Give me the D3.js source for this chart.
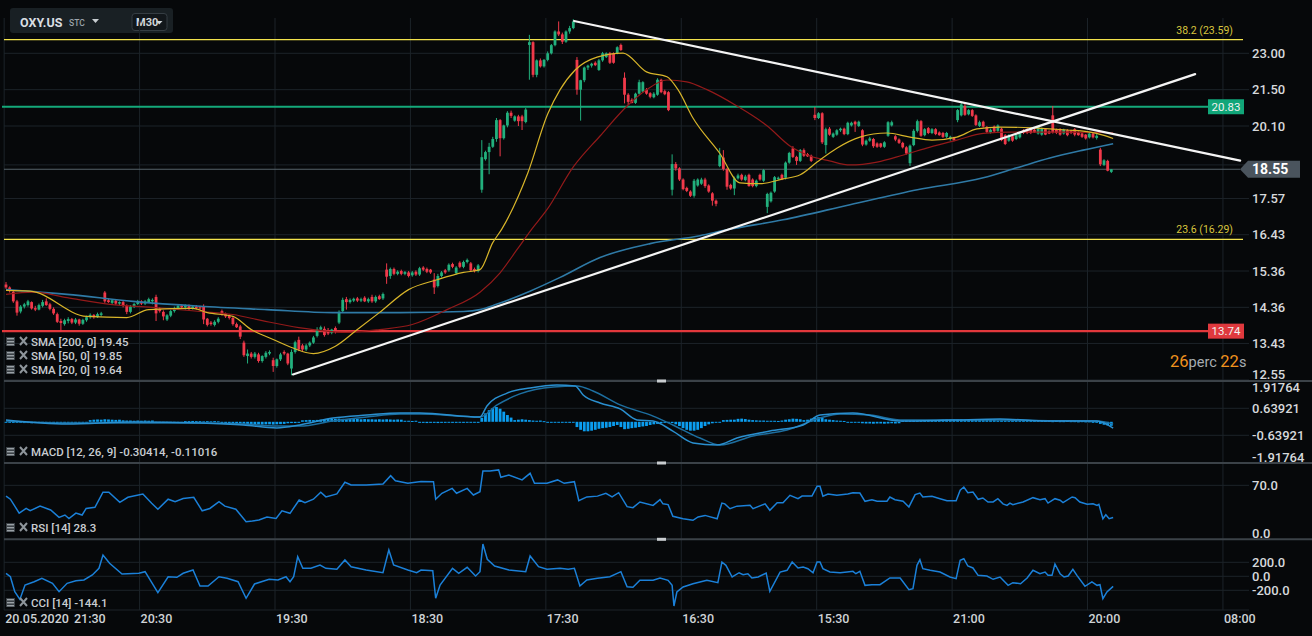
<!DOCTYPE html>
<html>
<head>
<meta charset="utf-8">
<script src="https://cdn.jsdelivr.net/npm/d3@7"></script>
<style>
  html, body { margin: 0; padding: 0; background: #06080a; }
  svg { display: block; font-family: Roboto, "Noto Sans", sans-serif; }
</style>
</head>
<body>
<svg id="chart" width="1312" height="636"></svg>
<script>
// OHLC per M30 candle: [open, high, low, close]
const candles = [
  [14.98,15.05,14.86,14.90],[14.90,14.93,14.76,14.80],[14.78,14.82,14.48,14.52],[14.52,14.56,14.14,14.22],[14.25,14.42,14.20,14.38],
  [14.38,14.48,14.33,14.44],[14.42,14.56,14.38,14.52],[14.50,14.52,14.30,14.33],[14.34,14.40,14.26,14.30],[14.30,14.46,14.28,14.42],
  [14.40,14.56,14.36,14.50],[14.52,14.60,14.40,14.42],[14.44,14.48,14.28,14.32],[14.32,14.36,14.16,14.20],[14.18,14.22,13.95,13.98],
  [14.00,14.06,13.72,13.95],[13.92,14.06,13.88,14.02],[14.00,14.10,13.94,14.05],[14.05,14.08,13.92,13.96],[13.96,14.08,13.92,14.04],
  [14.04,14.06,13.88,13.93],[13.93,14.06,13.90,14.03],[14.02,14.14,13.98,14.10],[14.10,14.20,14.06,14.16],[14.16,14.18,14.06,14.10],
  [14.10,14.22,14.08,14.18],[14.16,14.24,14.12,14.20],[14.76,14.80,14.48,14.52],[14.55,14.60,14.48,14.50],[14.48,14.58,14.45,14.55],
  [14.54,14.58,14.42,14.46],[14.46,14.52,14.42,14.50],[14.50,14.54,14.36,14.40],[14.40,14.44,14.18,14.24],[14.24,14.42,14.20,14.38],
  [14.38,14.48,14.34,14.45],[14.45,14.56,14.42,14.52],[14.52,14.55,14.42,14.46],[14.46,14.56,14.42,14.52],[14.50,14.62,14.48,14.58],
  [14.52,14.60,14.44,14.56],[14.64,14.70,14.00,14.20],[14.32,14.36,14.22,14.26],[14.24,14.28,14.02,14.12],[14.04,14.18,14.00,14.15],
  [14.14,14.30,14.10,14.26],[14.26,14.38,14.22,14.34],[14.34,14.44,14.30,14.40],[14.40,14.44,14.32,14.36],[14.36,14.44,14.30,14.40],
  [14.40,14.44,14.28,14.32],[14.32,14.42,14.30,14.38],[14.38,14.42,14.30,14.34],[14.36,14.40,14.30,14.33],[14.38,14.44,13.92,14.04],
  [14.06,14.08,13.86,13.90],[13.96,14.00,13.88,13.92],[13.90,14.02,13.86,13.98],[13.98,14.10,13.94,14.06],[14.26,14.30,14.14,14.16],
  [14.18,14.22,14.08,14.12],[14.14,14.18,14.04,14.08],[14.08,14.12,13.88,13.92],[13.92,13.96,13.82,13.84],[13.86,13.90,13.54,13.60],
  [13.45,13.50,13.10,13.14],[13.12,13.28,12.94,13.18],[13.18,13.22,13.06,13.10],[13.10,13.22,13.06,13.18],[13.16,13.20,12.96,13.00],
  [13.00,13.14,12.96,13.12],[13.10,13.24,13.06,13.20],[13.18,13.26,13.14,13.22],[13.02,13.08,12.74,12.88],[12.88,13.06,12.84,13.04],
  [13.04,13.20,13.00,13.16],[13.22,13.26,13.14,13.18],[13.18,13.20,12.90,12.94],[12.82,13.28,12.66,13.22],[13.22,13.50,13.18,13.46],
  [13.52,13.60,13.24,13.28],[13.38,13.42,13.24,13.28],[13.28,13.42,13.24,13.38],[13.38,13.48,13.34,13.45],[13.45,13.62,13.42,13.58],
  [13.62,13.84,13.58,13.78],[13.78,13.88,13.74,13.84],[13.80,13.86,13.60,13.64],[13.76,13.82,13.64,13.68],[13.70,13.80,13.66,13.78],
  [13.82,13.86,13.68,13.72],[13.96,14.28,13.92,14.24],[14.26,14.62,14.22,14.56],[14.58,14.64,14.30,14.50],[14.50,14.60,14.46,14.56],
  [14.54,14.62,14.50,14.59],[14.60,14.64,14.50,14.54],[14.54,14.62,14.50,14.58],[14.62,14.66,14.50,14.52],[14.52,14.62,14.48,14.58],
  [14.64,14.70,14.48,14.52],[14.52,14.68,14.48,14.64],[14.66,14.70,14.56,14.58],[14.60,14.76,14.56,14.72],[15.40,15.58,15.00,15.20],
  [15.22,15.46,15.14,15.42],[15.42,15.46,15.24,15.28],[15.28,15.38,15.24,15.34],[15.36,15.40,15.24,15.28],[15.28,15.36,15.24,15.33],
  [15.32,15.36,15.18,15.22],[15.24,15.36,15.20,15.32],[15.34,15.38,15.22,15.26],[15.26,15.48,15.22,15.44],[15.46,15.50,15.36,15.40],
  [15.42,15.46,15.30,15.34],[15.40,15.42,15.28,15.32],[15.12,15.30,14.72,14.90],[14.94,15.28,14.90,15.22],[15.22,15.36,15.18,15.32],
  [15.38,15.42,15.28,15.32],[15.38,15.58,15.34,15.54],[15.56,15.60,15.44,15.48],[15.30,15.50,15.26,15.46],[15.60,15.64,15.44,15.48],
  [15.48,15.66,15.44,15.62],[15.62,15.72,15.58,15.68],[15.58,15.62,15.34,15.38],[15.42,15.46,15.32,15.36],[15.36,15.56,15.32,15.52],
  [17.86,19.58,17.76,18.97],[18.90,19.20,18.85,19.15],[19.15,19.48,18.38,19.34],[19.34,19.70,19.30,19.62],[19.62,20.40,19.52,20.32],
  [20.32,20.36,19.00,19.65],[19.65,20.15,19.60,20.12],[20.12,20.66,20.05,20.60],[20.60,20.68,20.40,20.48],[20.30,20.50,20.26,20.46],
  [20.46,20.52,20.10,20.28],[20.46,20.52,19.95,20.28],[20.25,20.78,20.20,20.72],[23.36,23.80,21.90,23.48],[23.48,23.52,22.00,22.10],
  [22.10,22.74,22.00,22.70],[22.70,22.78,22.40,22.45],[22.45,22.76,22.40,22.72],[22.72,23.08,22.66,23.00],[23.00,23.40,22.95,23.35],
  [23.35,24.00,23.30,23.95],[23.95,24.40,23.75,23.82],[23.82,23.90,23.40,23.50],[23.50,24.00,23.45,23.95],[23.95,24.20,23.85,24.10],
  [24.10,24.50,24.05,24.40],[22.72,22.84,21.30,21.50],[21.50,21.90,20.30,21.88],[21.88,22.44,21.80,22.40],[22.40,22.52,22.30,22.48],
  [22.48,22.60,22.40,22.56],[22.60,22.66,22.46,22.50],[22.30,22.76,22.26,22.70],[22.70,23.06,22.64,23.00],[22.84,23.04,22.80,23.00],
  [23.00,23.06,22.55,22.60],[23.00,23.04,22.56,22.60],[23.00,23.30,22.96,23.26],[23.36,23.42,23.10,23.14],[21.98,22.20,20.96,21.30],
  [21.30,21.36,20.90,21.02],[21.10,21.16,20.96,20.98],[20.98,21.38,20.94,21.34],[21.34,21.90,21.30,21.80],[21.42,21.84,21.38,21.80],
  [21.50,21.56,21.30,21.34],[21.36,21.40,21.16,21.22],[21.20,21.40,21.16,21.34],[21.30,21.96,21.26,21.90],[21.90,21.94,21.36,21.40],
  [21.44,21.50,21.28,21.32],[21.40,21.44,20.66,20.70],[17.86,19.07,17.67,18.73],[18.73,18.80,18.50,18.58],[18.58,18.62,18.15,18.20],
  [18.20,18.24,17.84,17.88],[17.92,17.96,17.78,17.82],[17.80,17.84,17.62,17.66],[17.66,18.22,17.60,18.16],[18.00,18.24,17.96,18.20],
  [18.06,18.26,18.02,18.20],[18.20,18.26,17.92,17.98],[18.00,18.04,17.76,17.80],[17.74,17.78,17.34,17.50],[17.50,17.54,17.32,17.40],
  [18.66,19.30,18.62,19.04],[18.96,19.22,18.50,18.56],[18.56,18.60,17.86,17.96],[18.02,18.06,17.86,17.90],[17.90,18.30,17.68,18.24],
  [18.24,18.40,18.20,18.34],[18.36,18.40,18.16,18.20],[18.18,18.36,18.14,18.30],[18.36,18.40,17.96,17.98],[18.20,18.24,17.94,17.98],
  [17.98,18.20,17.94,18.16],[18.36,18.40,18.16,18.20],[18.16,18.56,18.12,18.52],[17.30,17.76,17.10,17.72],[17.48,17.80,17.44,17.76],
  [17.80,18.32,17.76,18.28],[18.22,18.30,18.18,18.26],[18.36,18.40,18.18,18.20],[18.26,18.82,18.20,18.78],[18.78,19.16,18.74,19.12],
  [19.28,19.36,18.94,18.98],[18.98,19.02,18.70,18.84],[18.84,19.26,18.80,19.22],[19.22,19.28,18.98,19.02],[19.08,19.12,18.98,19.00],
  [19.02,19.06,18.80,18.84],[20.52,20.82,20.32,20.40],[20.40,20.62,20.36,20.58],[20.58,20.62,19.44,19.50],[19.40,20.04,19.10,19.98],
  [20.00,20.06,19.74,19.78],[19.70,19.86,19.66,19.82],[19.78,19.98,19.74,19.94],[19.94,20.04,19.88,20.00],[20.00,20.04,19.76,19.80],
  [19.80,20.26,19.76,20.22],[20.12,20.26,20.08,20.22],[20.26,20.30,19.88,20.16],[20.10,20.30,20.06,20.26],[19.94,19.98,19.36,19.42],
  [19.42,19.60,19.38,19.56],[19.56,19.70,19.52,19.64],[19.62,19.66,19.30,19.36],[19.46,19.50,19.30,19.34],[19.46,19.48,19.30,19.34],
  [19.34,19.54,19.30,19.50],[19.74,20.28,19.70,20.24],[20.12,20.30,20.08,20.24],[19.72,19.76,19.54,19.60],[19.60,19.64,19.44,19.48],
  [19.48,19.52,19.28,19.32],[19.32,19.36,19.06,19.10],[18.76,19.42,18.66,19.38],[19.40,19.98,19.36,19.92],[19.92,20.34,19.86,20.28],
  [20.28,20.32,19.70,19.74],[19.76,20.02,19.72,19.98],[20.02,20.06,19.80,19.84],[19.84,20.02,19.80,19.98],[19.98,20.02,19.76,19.80],
  [19.86,19.90,19.74,19.76],[19.84,19.88,19.66,19.70],[19.70,19.88,19.66,19.84],[19.62,19.74,19.56,19.70],[19.66,19.70,19.54,19.58],
  [20.32,20.74,20.24,20.70],[20.50,21.02,20.46,20.92],[20.86,20.94,20.48,20.52],[20.54,20.74,20.50,20.70],[20.70,20.74,20.44,20.48],
  [20.50,20.54,20.10,20.14],[20.10,20.30,20.06,20.24],[20.26,20.30,20.04,20.08],[20.06,20.10,19.84,19.88],[19.86,20.00,19.82,19.96],
  [20.08,20.12,19.86,19.90],[19.92,20.16,19.88,20.12],[20.00,20.04,19.54,19.58],[19.76,19.80,19.40,19.44],[19.56,19.80,19.52,19.74],
  [19.72,19.76,19.52,19.56],[19.62,19.80,19.58,19.76],[19.68,19.86,19.64,19.82],[19.94,19.98,19.80,19.84],[19.98,20.02,19.80,19.84],
  [19.98,20.02,19.80,19.84],[19.96,20.00,19.84,19.86],[19.82,20.10,19.78,20.06],[19.78,20.04,19.74,20.00],[19.98,20.02,19.76,19.78],
  [19.90,19.94,19.80,19.82],[20.50,20.86,19.82,19.86],[19.96,20.00,19.80,19.84],[19.98,20.02,19.74,19.78],[19.82,20.00,19.78,19.96],
  [19.94,19.98,19.72,19.76],[19.92,19.96,19.80,19.84],[19.98,20.02,19.72,19.78],[19.86,19.90,19.74,19.76],[19.82,19.86,19.66,19.70],
  [19.78,19.80,19.60,19.64],[19.68,19.86,19.64,19.82],[19.82,19.86,19.64,19.68],[19.66,19.80,19.60,19.74],[19.24,19.30,18.66,18.72],
  [18.70,18.90,18.66,18.86],[18.84,18.88,18.48,18.50],[18.46,18.56,18.42,18.55]
];

// moving averages as [candle index, price]
const sma20 = [[0,14.82],[6.6,14.80],[22,14.12],[33,14.09],[39,14.30],[51,14.33],[55,14.22],[62,14.12],[67,13.78],[73,13.53],[78,13.33],[84,13.18],[90,13.36],[96,13.78],[102,14.22],[110,14.84],[118,15.12],[125,15.32],[129.5,15.40],[133,16.19],[135.5,16.61],[142.6,18.43],[148,20.55],[151.4,21.50],[155.5,22.30],[161.5,22.84],[168.6,23.01],[175,22.22],[180.6,22.02],[183.6,21.50],[187.7,20.40],[195,19.11],[200.5,18.09],[206,18.06],[212.3,18.22],[217,18.36],[221.6,18.80],[227,19.29],[233.3,19.69],[240.7,19.84],[247,19.69],[253,19.58],[259.8,19.69],[265.3,19.99],[271.6,20.06],[280.6,20.03],[289.9,19.95],[296.2,19.87],[299.7,19.76],[302.5,19.64]];
const sma50 = [[0,14.71],[7.4,14.77],[16.7,14.62],[28.4,14.44],[40,14.36],[53,14.25],[62,14.17],[70,14.01],[80,13.83],[93,13.71],[102,13.78],[111,13.91],[120.5,14.30],[129.5,14.77],[135,15.31],[139.6,15.98],[143.7,16.61],[147.8,17.21],[155,18.63],[162.3,19.73],[169.7,20.86],[175,21.50],[180.6,21.89],[186,21.81],[191.5,21.50],[199.7,20.86],[208,20.10],[214.2,19.37],[219.7,19.01],[225,18.84],[230.6,18.70],[238,18.80],[245,19.04],[252.5,19.33],[259.8,19.58],[267,19.83],[274.3,19.87],[290,19.87],[297,19.86],[302.5,19.85]];
const sma200 = [[0,14.84],[16.7,14.71],[34.7,14.52],[53,14.39],[71.3,14.30],[89.3,14.22],[107.7,14.22],[125,14.25],[129.5,14.30],[134,14.44],[143,14.79],[151.4,15.18],[162.3,15.75],[176,16.16],[189.6,16.40],[197,16.58],[212.3,16.89],[230.6,17.37],[249,17.86],[267,18.26],[276.2,18.60],[285.2,18.94],[294.3,19.22],[302.5,19.45]];

// MACD lines [index, value] and histogram (one value per candle)
const macdLine = [[0,0.09],[16.7,-0.10],[34.7,-0.01],[53,-0.06],[64.8,-0.15],[74,-0.29],[80.3,-0.15],[89.3,0.18],[98.6,0.32],[107.7,0.42],[113.1,0.42],[129.5,0.23],[131.4,0.75],[136.9,1.36],[143.2,1.60],[150.5,1.74],[155.5,1.70],[157.7,1.27],[162.3,0.89],[167.8,0.61],[172.4,0.09],[176.8,0.04],[182.2,-0.44],[187.7,-1.00],[194.3,-1.10],[199.7,-0.77],[208.7,-0.44],[217.8,-0.15],[222.4,0.32],[231.4,0.42],[244.3,0.04],[258,0.08],[271.6,0.13],[285,0.04],[298,0.04],[302.5,-0.30]];
const signalLine = [[0,0.04],[16.7,-0.06],[34.7,-0.06],[53,-0.06],[64.8,-0.10],[74,-0.20],[80.3,-0.20],[89.3,0.04],[98.6,0.23],[107.7,0.37],[113.1,0.37],[129.5,0.23],[134.2,0.80],[140.4,1.32],[149.5,1.65],[156,1.70],[160.4,1.46],[167.8,0.80],[176.8,0.27],[182.2,-0.15],[189.6,-0.77],[195.1,-1.10],[204.1,-0.67],[213.4,-0.39],[222.4,0.18],[227.9,0.37],[236.1,0.32],[244.3,0.09],[258,0.09],[271.6,0.09],[285,0.05],[298,0.04],[302.5,-0.11]];
const macdHist = [
  -0.04,-0.04,-0.05,-0.04,-0.05,-0.06,-0.06,-0.07,-0.06,-0.06,
  -0.06,-0.05,-0.06,-0.07,-0.06,-0.05,-0.05,-0.04,-0.05,-0.05,
  -0.04,-0.05,-0.04,0.08,0.10,0.11,0.10,0.12,0.11,0.10,
  0.09,0.10,0.07,0.06,0.06,0.05,0.06,0.05,0.06,0.05,
  0.06,-0.04,-0.05,-0.04,-0.03,-0.04,-0.03,-0.04,-0.03,0.03,
  0.03,0.04,0.03,0.03,0.02,0.03,0.02,0.03,0.02,-0.07,
  -0.08,-0.08,-0.09,-0.08,-0.08,-0.09,-0.10,-0.11,-0.12,-0.12,
  -0.13,-0.12,-0.12,-0.13,-0.12,-0.11,-0.10,-0.07,-0.06,-0.06,
  -0.05,0.07,0.08,0.09,0.08,0.09,0.10,0.13,0.14,0.15,
  0.14,0.15,0.14,0.13,0.14,0.13,0.14,0.12,0.13,0.12,
  0.12,0.11,0.12,0.11,0.12,0.11,0.10,0.11,0.10,0.05,
  0.05,0.04,0.05,-0.05,-0.05,-0.06,-0.05,-0.05,-0.06,-0.05,
  -0.05,-0.04,-0.05,-0.05,-0.04,-0.05,0,0,0,-0.05,
  0.19,0.40,0.55,0.65,0.70,0.62,0.48,0.32,0.20,0.08,
  0.10,0.12,0.10,0.08,0.06,0.05,0.06,0.03,0,0,
  0,0,0,-0.03,-0.05,-0.04,-0.25,-0.38,-0.45,-0.45,
  -0.42,-0.38,-0.33,-0.30,-0.28,-0.25,-0.20,-0.15,-0.25,-0.35,
  -0.33,-0.30,-0.28,-0.25,-0.22,-0.20,-0.15,-0.12,-0.10,-0.07,
  -0.05,-0.04,-0.06,-0.12,-0.20,-0.30,-0.38,-0.42,-0.42,-0.38,
  -0.30,-0.20,-0.12,-0.07,-0.04,-0.02,0.08,0.09,0.10,0.10,
  0.14,0.15,0.13,0.10,0.08,0.07,0.06,0.06,0.05,0.05,
  0.05,0.04,0.06,0.10,0.12,0.15,0.14,0.12,0.08,0.10,
  0.15,0.20,0.22,0.18,0.12,0.10,0.08,0.06,0.05,0.04,
  0,0,0,0,-0.07,-0.08,-0.08,-0.09,-0.08,-0.08,
  -0.09,-0.08,-0.07,-0.08,-0.07,0.05,0.06,0.05,0.06,0.05,
  0.06,0.05,0.06,0.05,0.05,0.06,0.10,0.11,0.10,0.12,
  0.11,0.12,0.10,0.11,0.10,0.12,0.11,0.10,0.09,0.10,
  0.09,0.06,0.07,0.06,0.05,0.06,0.07,0.06,0.05,0.06,
  0.05,0.06,0.05,0.06,0.05,0.06,0.03,0.04,0.03,0.03,
  0.04,0.03,0.03,0.02,0.03,0.02,0.02,-0.03,-0.03,-0.10,
  -0.14,-0.17,-0.19
];

const rsi = [[0,56],[1.2,52],[3.6,34],[5.5,40],[6.6,37],[9.3,43],[12.2,38],[14.5,28.5],[16.1,31.5],[17.2,27],[19.1,34],[20.8,31.5],[21.9,40],[24.3,41.5],[26.5,61],[28.1,61],[31.1,48],[33.3,54.5],[37.4,58.8],[39.8,46.7],[41.5,39],[44.3,52],[46.2,48.8],[48.4,53],[51.3,54.5],[53.6,37],[55.7,40],[58.2,48.8],[59.8,43],[62.8,39],[65.6,22.8],[67.3,23.7],[69.1,25],[71.3,29],[73.8,27],[75.4,37],[77.6,33.7],[80.1,51],[81.7,47.5],[84,52],[86,61],[87.4,55],[90.4,58.8],[92.6,74],[94.3,70.4],[98.4,70.4],[103,71.7],[105.1,82.5],[106.4,76],[109.8,72.6],[113.4,75],[116.8,74.7],[117.4,52],[119.1,59.7],[121.9,66],[123.1,59.7],[126,66],[127.7,57.5],[129.5,61.7],[130.3,88.6],[132.2,88.6],[134.6,90],[135.2,80.4],[137.4,83.4],[141,77],[143.2,85.6],[144.4,72.6],[147.8,72.6],[150.7,77],[152.5,72.6],[155.3,74.7],[156.5,50],[158.7,55],[161.6,56],[163.9,59.7],[165.6,55],[167.4,60.4],[169.7,42.3],[171.3,41],[173.2,48.4],[176.8,44],[178.7,51.4],[179.5,46],[180.9,45],[182.2,29.8],[185,26.7],[187.7,24.6],[189.1,29],[191,31],[194.3,26.7],[195.6,47],[196.4,46],[197.8,39.7],[199.7,43],[203.3,44],[204.1,39.7],[207.4,46],[208.7,37.6],[210.7,47.5],[212.3,47.5],[214.2,57],[216.4,52.7],[217.5,56],[220.2,56],[221.6,68.7],[222.4,68.7],[223.2,55.8],[224.6,58.8],[227,57],[230,58.8],[231.4,60.4],[233.3,60],[234.7,49.3],[236.6,51.4],[238,49.3],[240.7,49.3],[241.5,54.9],[242.9,51.4],[245.1,49.3],[246.7,42],[248.4,57.9],[249.7,60],[250.5,54.9],[253,55.8],[255.2,52.7],[257.1,50],[259.6,50],[260.7,63.6],[261.7,67.8],[262.8,60.4],[264.2,61.3],[265.6,51.9],[266.9,53.6],[268.3,48.4],[269.7,48.4],[271,52.7],[272.4,46],[273.5,44],[274.3,47],[275.1,45],[277.9,48.4],[280.6,54],[282.5,51.4],[283.9,52.7],[284.7,47],[286.6,52.7],[288,50.6],[288.8,47.5],[291.3,54.9],[292.1,54],[293.4,48.4],[295.4,45.4],[297,46],[298.1,44],[298.6,45.4],[299.7,26.7],[300.5,31.9],[301.4,26.7],[302.5,28.3]];

const cci = [[0,43],[1.2,-6],[2.4,-220],[3.8,-330],[5.2,-124],[7.7,-77],[9.8,-29],[12.7,-100],[14.5,-220],[16.7,-100],[19.1,-63],[21.3,-53],[23.6,19],[25.4,114],[26.5,304],[28.3,186],[31.7,33],[36.3,43],[38,66],[41.5,-234],[44.3,-6],[46.7,-14],[48.4,43],[51.1,90],[53,-139],[55.2,-139],[58.2,-6],[60.4,-29],[63.4,-77],[65.6,-314],[67.9,-110],[71.9,-43],[74.3,-53],[76.5,-6],[77.6,-77],[78.6,-6],[79.7,280],[81.1,114],[83.3,114],[85.8,161],[87.4,114],[90.4,100],[92.6,233],[94.3,137],[98.4,90],[103,51],[104.6,376],[105.9,161],[109.8,90],[112.2,51],[113.4,90],[116.6,80],[117.4,-314],[118.6,-124],[122,114],[123.7,43],[126,129],[128.3,4],[129.5,66],[130.3,461],[131.5,243],[133.5,147],[137.4,90],[142,66],[143.2,290],[145.5,137],[147.8,100],[151.4,114],[153.6,100],[155.3,114],[156.8,-139],[158.7,-53],[161.6,-29],[165,-6],[168,66],[169.7,-149],[171.3,-157],[173.2,-57],[176.8,-57],[178.7,-24],[180.9,-57],[182,-129],[182.5,-424],[183.3,-224],[185,-153],[187.7,-106],[191.5,-57],[194.5,-91],[195.6,204],[196.7,157],[198.4,-10],[200.3,51],[201.4,23],[202.7,37],[203.8,-24],[205.5,-10],[207.7,47],[208.7,-214],[211.5,61],[213.4,86],[214.8,204],[216.4,119],[217.8,133],[219.1,109],[220.5,51],[221.6,204],[222.4,204],[223.2,109],[225.1,61],[227.9,51],[229.8,61],[231.4,71],[232.2,37],[233.3,71],[234.7,-129],[236.6,-120],[238.8,-120],[241.5,-24],[244.3,-24],[246.7,-191],[247.8,-177],[248.9,157],[249.7,237],[250.5,109],[252.5,86],[255.2,61],[257.9,-10],[259.6,-34],[260.7,229],[261.7,251],[262.8,147],[264.2,119],[265.6,14],[268,4],[269.7,-43],[271.6,-10],[273.8,-129],[275.1,-91],[277.2,-106],[279,-24],[280.6,86],[282.5,37],[283.9,61],[284.7,14],[285.8,14],[286.6,176],[288,37],[289.1,-10],[290.2,4],[291.5,100],[292.6,14],[294.8,-143],[296.7,-81],[298.1,-129],[298.9,-120],[299.7,-320],[300.8,-224],[302.5,-144]];

// drawn trendlines: [[index, price], [index, price]]
const trendDown = [[155.2, 24.42], [337.2, 18.85]];
const trendUp = [[78.4, 12.68], [324.9, 22.13]];

// axis ticks and labels
const priceTicks = [23.00, 21.50, 20.10, 18.70, 17.57, 16.43, 15.36, 14.36, 13.43, 12.55];
const macdTicks = [1.91764, 0.63921, -0.63921, -1.91764];
const rsiTicks = [70, 0];
const cciTicks = [200, 0, -200];
const gridIdx = [-0.5, 36.5, 73.5, 110.5, 147.5, 184.5, 221.5, 258.5, 295.5, 332.5];
const timeLabels = ['20.05.2020', '21:30', '20:30', '19:30', '18:30', '17:30', '16:30', '15:30', '21:00', '20:00', '08:00'];
const timeLabelIdx = [-0.5, 18.3, 36.5, 73.5, 110.5, 147.5, 184.5, 221.5, 258.5, 295.5, 332.5];

const fibLevels = [23.59, 16.29];
const fibNames = ['38.2 (23.59)', '23.6 (16.29)'];
const resistance = 20.83;
const support = 13.74;
const lastPrice = 18.55;

const smaLabels = ['SMA [200, 0] 19.45', 'SMA [50, 0] 19.85', 'SMA [20, 0] 19.64'];

// ---------- layout ----------
const plotRight = 1243;
const panels = {
  price: [0, 381],
  macd: [381, 463],
  rsi: [463, 539.3],
  cci: [539.3, 610]
};

const svg = d3.select('#chart');
svg.append('rect').attr('width', 1312).attr('height', 636).attr('fill', '#06080a');

const x = d3.scaleLinear().domain([0, 302]).range([6, 6 + 302 * 3.66]);
const yPrice = d3.scaleLog().domain([12.55, 23]).range([380, 53.3]);
const yMacd = d3.scaleLinear().domain([-1.91764, 1.91764]).range([462.3, 381.3]);
const yRsi = d3.scaleLinear().domain([0, 100]).range([539.3, 462.2]);
const yCci = d3.scaleLinear().domain([-200, 200]).range([590.3, 562.3]);

const defs = svg.append('defs');
Object.entries(panels).forEach(([k, [y0, y1]]) => {
  defs.append('clipPath').attr('id', `clip-${k}`)
    .append('rect').attr('x', 0).attr('y', y0).attr('width', plotRight).attr('height', y1 - y0);
});

// header box
const head = svg.append('g');
head.append('rect').attr('x', 10).attr('y', 8).attr('width', 163).attr('height', 25).attr('rx', 3).attr('fill', '#192024');
head.append('text').attr('x', 20).attr('y', 27).attr('fill', '#d9dee2').attr('font-size', 12.5).attr('font-weight', 700).text('OXY.US');
head.append('text').attr('x', 69).attr('y', 26).attr('fill', '#9aa3aa').attr('font-size', 8.5).attr('font-weight', 500).text('STC');
head.append('path').attr('d', 'M92,19 L99,19 L95.5,23 Z').attr('fill', '#c8cdd1');
head.append('rect').attr('x', 132).attr('y', 13.5).attr('width', 35).attr('height', 17).attr('rx', 3)
  .attr('fill', '#12171b').attr('stroke', '#353d43');
head.append('text').attr('x', 136).attr('y', 26).attr('fill', '#d0d5d9').attr('font-size', 11).attr('font-weight', 700).text('M30');
head.append('path').attr('d', 'M156,21 L162.5,21 L159.25,24.5 Z').attr('fill', '#d0d5d9');

// grid
const grid = svg.append('g').attr('stroke', '#1c2329').attr('stroke-width', 1);
gridIdx.forEach(i => {
  grid.append('line').attr('x1', x(i)).attr('x2', x(i)).attr('y1', 18).attr('y2', 610);
});
priceTicks.forEach(p => {
  grid.append('line').attr('x1', 4).attr('x2', 1249).attr('y1', yPrice(p)).attr('y2', yPrice(p));
});
[0.63921, -0.63921].forEach(v => {
  grid.append('line').attr('x1', 4).attr('x2', 1249).attr('y1', yMacd(v)).attr('y2', yMacd(v));
});
grid.append('line').attr('x1', 4).attr('x2', 1249).attr('y1', yRsi(70)).attr('y2', yRsi(70));
[200, 0, -200].forEach(v => {
  grid.append('line').attr('x1', 4).attr('x2', 1249).attr('y1', yCci(v)).attr('y2', yCci(v));
});
grid.append('line').attr('x1', 4).attr('x2', 1249).attr('y1', 610).attr('y2', 610);

// ---------- price panel ----------
const main = svg.append('g').attr('clip-path', 'url(#clip-price)');

fibLevels.forEach(p => {
  main.append('line').attr('x1', 4).attr('x2', plotRight).attr('y1', yPrice(p)).attr('y2', yPrice(p))
    .attr('stroke', '#f2e24c').attr('stroke-width', 1.2);
});
main.append('line').attr('x1', 2).attr('x2', 1208).attr('y1', yPrice(resistance)).attr('y2', yPrice(resistance))
  .attr('stroke', '#14a97a').attr('stroke-width', 2.2);
main.append('line').attr('x1', 2).attr('x2', 1208).attr('y1', yPrice(support)).attr('y2', yPrice(support))
  .attr('stroke', '#e2383c').attr('stroke-width', 2.2);
main.append('line').attr('x1', 4).attr('x2', 1240).attr('y1', yPrice(lastPrice)).attr('y2', yPrice(lastPrice))
  .attr('stroke', '#56616a').attr('stroke-width', 1);

const up = '#22b07d', down = '#f0394a';
const cg = main.append('g');
cg.selectAll('line.wick').data(candles).join('line')
  .attr('class', 'wick')
  .attr('x1', (d, i) => x(i)).attr('x2', (d, i) => x(i))
  .attr('y1', d => yPrice(d[1])).attr('y2', d => yPrice(d[2]))
  .attr('stroke', d => d[3] >= d[0] ? up : down).attr('stroke-width', 1);
cg.selectAll('rect.body').data(candles).join('rect')
  .attr('class', 'body')
  .attr('x', (d, i) => x(i) - 1.4).attr('width', 2.8)
  .attr('y', d => yPrice(Math.max(d[0], d[3])))
  .attr('height', d => Math.max(1, yPrice(Math.min(d[0], d[3])) - yPrice(Math.max(d[0], d[3]))))
  .attr('fill', d => d[3] >= d[0] ? up : down);

const smaLine = d3.line().x(d => x(d[0])).y(d => yPrice(d[1])).curve(d3.curveMonotoneX);
main.append('path').attr('d', smaLine(sma200)).attr('fill', 'none').attr('stroke', '#2f7aa6').attr('stroke-width', 1.6);
main.append('path').attr('d', smaLine(sma50)).attr('fill', 'none').attr('stroke', '#931a1a').attr('stroke-width', 1.2);
main.append('path').attr('d', smaLine(sma20)).attr('fill', 'none').attr('stroke', '#d8b52a').attr('stroke-width', 1.2);

[trendDown, trendUp].forEach(t => {
  main.append('line')
    .attr('x1', x(t[0][0])).attr('y1', yPrice(t[0][1]))
    .attr('x2', x(t[1][0])).attr('y2', yPrice(t[1][1]))
    .attr('stroke', '#f4f4f4').attr('stroke-width', 2.2).attr('stroke-linecap', 'round');
});

// ---------- MACD ----------
const mg = svg.append('g').attr('clip-path', 'url(#clip-macd)');
mg.selectAll('rect').data(macdHist).join('rect')
  .attr('x', (d, i) => x(i) - 1.4).attr('width', 2.8)
  .attr('y', d => Math.min(yMacd(0), yMacd(d)))
  .attr('height', d => Math.max(1, Math.abs(yMacd(d) - yMacd(0))))
  .attr('fill', '#0b9def');
const ml = d3.line().x(d => x(d[0])).y(d => yMacd(d[1])).curve(d3.curveMonotoneX);
mg.append('path').attr('d', ml(signalLine)).attr('fill', 'none').attr('stroke', '#1d6e9f').attr('stroke-width', 1.5);
mg.append('path').attr('d', ml(macdLine)).attr('fill', 'none').attr('stroke', '#2a8fcf').attr('stroke-width', 1.5);

// ---------- RSI / CCI ----------
const rl = d3.line().x(d => x(d[0])).y(d => yRsi(d[1]));
svg.append('g').attr('clip-path', 'url(#clip-rsi)')
  .append('path').attr('d', rl(rsi)).attr('fill', 'none').attr('stroke', '#1b80d8').attr('stroke-width', 1.5);
const cl = d3.line().x(d => x(d[0])).y(d => yCci(d[1]));
svg.append('g').attr('clip-path', 'url(#clip-cci)')
  .append('path').attr('d', cl(cci)).attr('fill', 'none').attr('stroke', '#1b80d8').attr('stroke-width', 1.5);

// panel separators with small handles
[381, 463, 539.3].forEach(y => {
  svg.append('line').attr('x1', 4).attr('x2', 1312).attr('y1', y).attr('y2', y)
    .attr('stroke', '#3b4248').attr('stroke-width', 2);
  svg.append('rect').attr('x', 657).attr('y', y - 1.5).attr('width', 9).attr('height', 3).attr('fill', '#c9cdd0');
});

// ---------- right axis ----------
const ax = svg.append('g').attr('fill', '#d6d9dc').attr('font-size', 13).attr('font-weight', 500);
priceTicks.forEach((p, k) => {
  const last = k === priceTicks.length - 1;
  ax.append('text').attr('x', 1252).attr('y', yPrice(p) + (last ? -1 : 4.7)).text(p.toFixed(2));
});
macdTicks.forEach((v, k) => {
  const dy = k === 0 ? 11 : (k === macdTicks.length - 1 ? -0.5 : 4.7);
  ax.append('text').attr('x', 1252).attr('y', yMacd(v) + dy).text(v.toFixed(5));
});
rsiTicks.forEach(v => {
  ax.append('text').attr('x', 1252).attr('y', yRsi(v) + (v === 0 ? -1 : 4.7)).text(v.toFixed(1));
});
cciTicks.forEach(v => {
  ax.append('text').attr('x', 1252).attr('y', yCci(v) + 4.7).text(v.toFixed(1));
});

// fib labels
fibLevels.forEach((p, k) => {
  svg.append('text').attr('x', 1233).attr('y', yPrice(p) - 6).attr('text-anchor', 'end')
    .attr('fill', '#d8c53e').attr('font-size', 10.5).text(fibNames[k]);
});

// level tags
[[resistance, '#11a679'], [support, '#e0393e']].forEach(([p, c]) => {
  const yy = yPrice(p);
  svg.append('rect').attr('x', 1208).attr('y', yy - 7.5).attr('width', 36).attr('height', 15).attr('fill', c);
  svg.append('text').attr('x', 1226).attr('y', yy + 4).attr('text-anchor', 'middle')
    .attr('fill', '#f2f2f2').attr('font-size', 11.5).text(p.toFixed(2));
});

// last price tag
{
  const yy = yPrice(lastPrice);
  svg.append('path')
    .attr('d', `M1240,${yy} L1248,${yy - 8.5} L1300,${yy - 8.5} L1300,${yy + 8.5} L1248,${yy + 8.5} Z`)
    .attr('fill', '#4a545d');
  svg.append('text').attr('x', 1252).attr('y', yy + 5).attr('fill', '#ffffff')
    .attr('font-size', 14).attr('font-weight', 700).text(lastPrice.toFixed(2));
}

// countdown
{
  const t = svg.append('text').attr('x', 1170).attr('y', 367).attr('font-size', 14.5);
  t.append('tspan').attr('fill', '#f0921e').attr('font-size', 16.5).text('26');
  t.append('tspan').attr('fill', '#a6acb1').text('perc ');
  t.append('tspan').attr('fill', '#f0921e').attr('font-size', 16.5).text('22');
  t.append('tspan').attr('fill', '#a6acb1').text('s');
}

// ---------- bottom time axis ----------
timeLabels.forEach((s, k) => {
  svg.append('text').attr('x', x(timeLabelIdx[k]) + 1).attr('y', 623)
    .attr('fill', '#cfd3d6').attr('font-size', 12.5).attr('font-weight', 500).text(s);
});

// ---------- indicator legends ----------
function legend(y, label) {
  const g = svg.append('g');
  g.append('rect').attr('x', 6).attr('y', y - 9).attr('width', 9).attr('height', 9).attr('fill', '#3a4045');
  [y - 8, y - 5, y - 2].forEach(yy => {
    g.append('rect').attr('x', 7).attr('y', yy).attr('width', 7).attr('height', 1.4).attr('fill', '#9aa1a6');
  });
  g.append('path').attr('d', `M20,${y - 9} L27,${y - 1} M27,${y - 9} L20,${y - 1}`)
    .attr('stroke', '#8e959b').attr('stroke-width', 2);
  g.append('text').attr('x', 31).attr('y', y).attr('fill', '#c9cdd1').attr('font-size', 11.5)
    .attr('font-weight', 500).text(label);
}
smaLabels.forEach((s, k) => legend(346 + k * 14, s));
legend(456, 'MACD [12, 26, 9] -0.30414, -0.11016');
legend(532, 'RSI [14] 28.3');
legend(607, 'CCI [14] -144.1');
</script>
</body>
</html>
